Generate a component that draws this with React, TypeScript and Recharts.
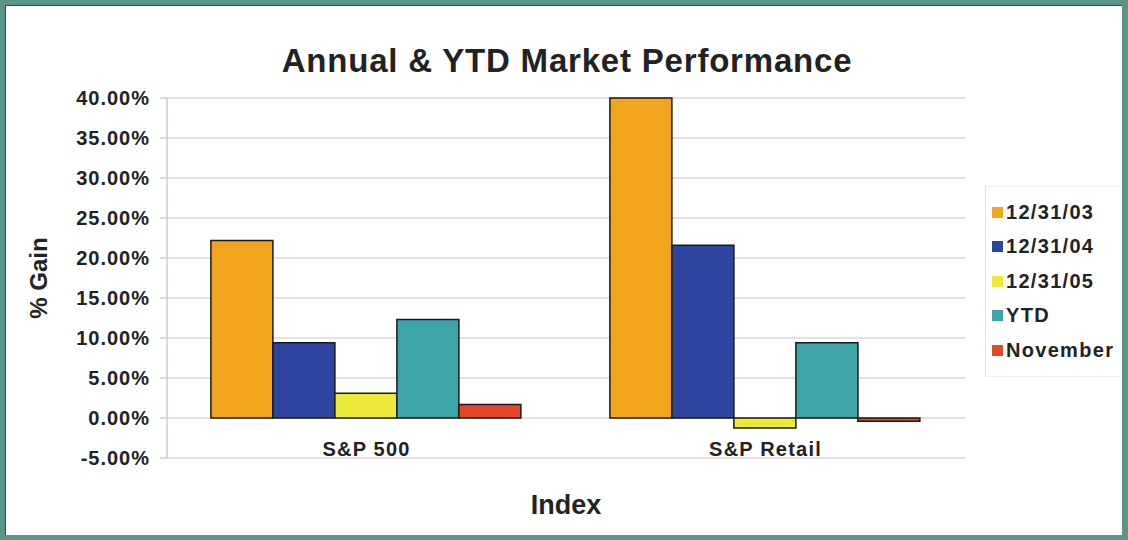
import React from "react";
import { BarChart, Bar, XAxis, YAxis, CartesianGrid, Legend } from "recharts";

const categories = ["S&P 500", "S&P Retail"];
const y2003 = [22.2, 40.0];
const y2004 = [9.4, 21.6];
const y2005 = [3.1, -1.25];
const ytd = [12.3, 9.4];
const november = [1.7, -0.4];
const yTicks = [-5, 0, 5, 10, 15, 20, 25, 30, 35, 40];

const seriesNames = ["12/31/03", "12/31/04", "12/31/05", "YTD", "November"];
const seriesColors = ["#F3A41F", "#2E45A0", "#EDE93A", "#3DA5A8", "#E2462B"];
const seriesValues = [y2003, y2004, y2005, ytd, november];

const data = categories.map((name, i) => {
  const row: Record<string, string | number> = { name };
  seriesNames.forEach((s, k) => (row[s] = seriesValues[k][i]));
  return row;
});

const font = '"Liberation Sans", Arial, sans-serif';

const CatTick = (props: any) => {
  const { x, y, payload } = props;
  return (
    <text x={x} y={y - 17} textAnchor="middle" dominantBaseline="central" fontFamily={font} fontWeight={700} fontSize={20} letterSpacing={1.2} fill="#222">
      {payload.value}
    </text>
  );
};

const LegendBox = ({ payload }: any) => {
  const items = [...(payload || [])].sort((a: any, b: any) => seriesNames.indexOf(a.value) - seriesNames.indexOf(b.value));
  return (
    <div style={{ borderLeft: "1px solid #e2e2e2", borderTop: "1px solid #f0f0f0", borderBottom: "1px solid #f0f0f0", padding: "8px 0 8px 6px", fontFamily: font }}>
      {items.map((p: any) => (
        <div key={p.value} style={{ display: "flex", alignItems: "center", height: 34.5 }}>
          <span style={{ width: 11, height: 11, background: p.color, display: "inline-block", marginRight: 3 }} />
          <span style={{ fontSize: 20, fontWeight: 700, color: "#222", letterSpacing: 1.3, whiteSpace: "nowrap" }}>{p.value}</span>
        </div>
      ))}
    </div>
  );
};

export default function App() {
  return (
    <div style={{ position: "absolute", left: 0, top: 0, width: 1128, height: 540, background: "#5C9487" }}>
      <div style={{ position: "absolute", left: 5, top: 5, width: 1116, height: 529, background: "#fff", borderLeft: "1px solid #2d4a44", borderTop: "1px solid #2d4a44", overflow: "hidden" }}>
        <div style={{ position: "absolute", left: -6, top: -6, width: 1128, height: 540 }}>
          <div style={{ position: "absolute", left: 0, width: 1134, top: 42, textAlign: "center", fontFamily: font, fontWeight: 700, fontSize: 33, letterSpacing: 0.8, color: "#222" }}>
            Annual &amp; YTD Market Performance
          </div>
          <BarChart width={1128} height={540} data={data} margin={{ top: 98, right: 20, bottom: 0, left: 0 }} barCategoryGap="11%" barGap={0}>
            <CartesianGrid vertical={false} stroke="#cfc4c4" />
            <XAxis
              dataKey="name"
              axisLine={false}
              tickLine={false}
              height={82}
              tick={<CatTick />}
              label={{ value: "Index", position: "insideBottom", offset: 26, style: { fontFamily: font, fontWeight: 700, fontSize: 27, fill: "#222" } }}
            />
            <YAxis
              domain={[-5, 40]}
              ticks={yTicks}
              width={167}
              interval={0}
              tickFormatter={(v: number) => `${v.toFixed(2)}%`}
              axisLine={{ stroke: "#bdb2b2" }}
              tickLine={{ stroke: "#bdb2b2" }}
              tickSize={7}
              tickMargin={10}
              tick={{ fontFamily: font, fontWeight: 700, fontSize: 20, fill: "#222", letterSpacing: 1 }}
              label={{ value: "% Gain", angle: -90, position: "insideLeft", offset: 38, style: { textAnchor: "middle", fontFamily: font, fontWeight: 700, fontSize: 24, fill: "#222" } }}
            />
            <Legend
              layout="vertical"
              align="right"
              verticalAlign="top"
              content={<LegendBox />}
              wrapperStyle={{ left: 985, top: 186, width: 143 }}
            />
            {seriesNames.map((s, k) => (
              <Bar key={s} dataKey={s} fill={seriesColors[k]} stroke="#1a1a1a" strokeWidth={1.5} isAnimationActive={false} />
            ))}
          </BarChart>
        </div>
      </div>
    </div>
  );
}
